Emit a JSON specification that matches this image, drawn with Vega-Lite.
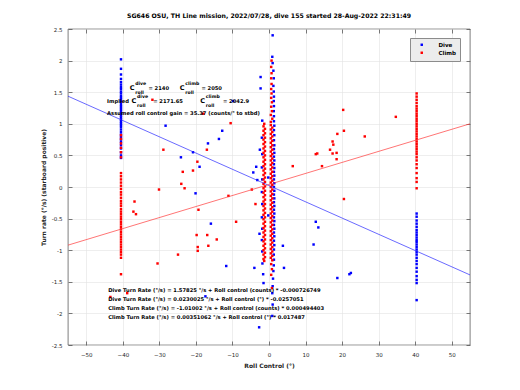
{
  "$schema": "https://vega.github.io/schema/vega-lite/v6.json",
  "autosize": {"type": "none"},
  "padding": {"left": 68, "top": 29, "right": 50, "bottom": 45},
  "width": 402,
  "height": 316,
  "background": "white",
  "title": {"text": "SG646 OSU, TH Line mission, 2022/07/28, dive 155 started 28-Aug-2022 22:31:49", "font": "DejaVu Sans", "fontSize": 6.2, "fontWeight": "bold", "color": "#000000", "offset": 8, "anchor": "middle"},
  "config": {
    "view": {"stroke": "#262626", "strokeWidth": 0.6},
    "axis": {"labelFont": "DejaVu Sans", "labelFontSize": 5.5, "labelColor": "#262626", "domainColor": "#262626", "domainWidth": 0.6, "tickColor": "#262626", "tickWidth": 0.6, "gridColor": "#e3e3e3", "gridWidth": 0.6, "titleFont": "DejaVu Sans", "titleFontSize": 6, "titleFontWeight": "bold", "titleColor": "#262626"},
    "legend": {"labelFont": "DejaVu Sans", "labelFontSize": 5.5, "labelFontWeight": "bold"}
  },
  "datasets": {
    "pts": [
      {"x": -40.5, "y": 2.02, "g": "Dive"}, {"x": -40.5, "y": 1.87, "g": "Dive"}, {"x": -40.5, "y": 1.78, "g": "Dive"}, {"x": -40.5, "y": 1.71, "g": "Dive"}, {"x": -40.5, "y": 1.66, "g": "Dive"}, {"x": -40.5, "y": 1.62, "g": "Dive"}, {"x": -40.5, "y": 1.58, "g": "Dive"}, {"x": -40.5, "y": 1.55, "g": "Dive"}, {"x": -40.5, "y": 1.51, "g": "Dive"}, {"x": -40.5, "y": 1.48, "g": "Dive"}, {"x": -40.5, "y": 1.44, "g": "Dive"}, {"x": -40.5, "y": 1.41, "g": "Dive"}, {"x": -40.5, "y": 1.38, "g": "Dive"}, {"x": -40.5, "y": 1.35, "g": "Dive"}, {"x": -40.5, "y": 1.31, "g": "Dive"}, {"x": -40.5, "y": 1.28, "g": "Dive"}, {"x": -40.5, "y": 1.25, "g": "Dive"}, {"x": -40.5, "y": 1.22, "g": "Dive"}, {"x": -40.5, "y": 1.19, "g": "Dive"}, {"x": -40.5, "y": 1.16, "g": "Dive"}, {"x": -40.5, "y": 1.13, "g": "Dive"}, {"x": -40.5, "y": 1.1, "g": "Dive"}, {"x": -40.5, "y": 1.07, "g": "Dive"}, {"x": -40.5, "y": 1.04, "g": "Dive"}, {"x": -40.5, "y": 1.01, "g": "Dive"}, {"x": -40.5, "y": 0.98, "g": "Dive"}, {"x": -40.5, "y": 0.95, "g": "Dive"}, {"x": -40.5, "y": 0.91, "g": "Dive"}, {"x": -40.5, "y": 0.87, "g": "Dive"}, {"x": -40.5, "y": 0.83, "g": "Dive"}, {"x": -40.5, "y": 0.79, "g": "Dive"}, {"x": -40.5, "y": 0.75, "g": "Dive"}, {"x": -40.5, "y": 0.71, "g": "Dive"}, {"x": -40.5, "y": 0.66, "g": "Dive"}, {"x": -40.5, "y": 0.61, "g": "Dive"}, {"x": -40.5, "y": 0.55, "g": "Dive"}, {"x": -40.5, "y": 0.5, "g": "Dive"}, {"x": -40.5, "y": 0.46, "g": "Dive"},
      {"x": 40.4, "y": -0.42, "g": "Dive"}, {"x": 40.4, "y": -0.47, "g": "Dive"}, {"x": 40.4, "y": -0.53, "g": "Dive"}, {"x": 40.4, "y": -0.58, "g": "Dive"}, {"x": 40.4, "y": -0.63, "g": "Dive"}, {"x": 40.4, "y": -0.68, "g": "Dive"}, {"x": 40.4, "y": -0.72, "g": "Dive"}, {"x": 40.4, "y": -0.76, "g": "Dive"}, {"x": 40.4, "y": -0.8, "g": "Dive"}, {"x": 40.4, "y": -0.84, "g": "Dive"}, {"x": 40.4, "y": -0.87, "g": "Dive"}, {"x": 40.4, "y": -0.91, "g": "Dive"}, {"x": 40.4, "y": -0.95, "g": "Dive"}, {"x": 40.4, "y": -0.99, "g": "Dive"}, {"x": 40.4, "y": -1.03, "g": "Dive"}, {"x": 40.4, "y": -1.07, "g": "Dive"}, {"x": 40.4, "y": -1.12, "g": "Dive"}, {"x": 40.4, "y": -1.17, "g": "Dive"}, {"x": 40.4, "y": -1.22, "g": "Dive"}, {"x": 40.4, "y": -1.28, "g": "Dive"}, {"x": 40.4, "y": -1.34, "g": "Dive"}, {"x": 40.4, "y": -1.41, "g": "Dive"}, {"x": 40.4, "y": -1.47, "g": "Dive"}, {"x": 40.4, "y": -1.52, "g": "Dive"}, {"x": 40.4, "y": -1.79, "g": "Dive"},
      {"x": 1.0, "y": 2.4, "g": "Dive"}, {"x": 0.9, "y": 2.06, "g": "Dive"}, {"x": 1.0, "y": 1.96, "g": "Dive"}, {"x": 1.2, "y": 1.84, "g": "Dive"}, {"x": 1.3, "y": 1.72, "g": "Dive"}, {"x": 1.2, "y": 1.6, "g": "Dive"}, {"x": 1.3, "y": 1.51, "g": "Dive"}, {"x": 1.35, "y": 1.43, "g": "Dive"}, {"x": 1.3, "y": 1.36, "g": "Dive"}, {"x": 1.35, "y": 1.28, "g": "Dive"}, {"x": 1.3, "y": 1.2, "g": "Dive"}, {"x": 1.35, "y": 1.12, "g": "Dive"}, {"x": 1.35, "y": 1.04, "g": "Dive"}, {"x": 1.45, "y": 0.97, "g": "Dive"}, {"x": 1.35, "y": 0.9, "g": "Dive"}, {"x": 1.45, "y": 0.82, "g": "Dive"}, {"x": 1.35, "y": 0.74, "g": "Dive"}, {"x": 1.45, "y": 0.66, "g": "Dive"}, {"x": 1.35, "y": 0.6, "g": "Dive"}, {"x": 1.45, "y": 0.54, "g": "Dive"}, {"x": 1.35, "y": 0.48, "g": "Dive"}, {"x": 1.45, "y": 0.42, "g": "Dive"}, {"x": 1.35, "y": 0.36, "g": "Dive"}, {"x": 1.45, "y": 0.3, "g": "Dive"}, {"x": 1.35, "y": 0.24, "g": "Dive"}, {"x": 1.45, "y": 0.18, "g": "Dive"}, {"x": 1.35, "y": 0.12, "g": "Dive"}, {"x": 1.45, "y": 0.06, "g": "Dive"}, {"x": 1.35, "y": 0.0, "g": "Dive"}, {"x": 1.45, "y": -0.06, "g": "Dive"}, {"x": 1.35, "y": -0.12, "g": "Dive"}, {"x": 1.45, "y": -0.18, "g": "Dive"}, {"x": 1.35, "y": -0.24, "g": "Dive"}, {"x": 1.45, "y": -0.3, "g": "Dive"}, {"x": 1.35, "y": -0.36, "g": "Dive"}, {"x": 1.45, "y": -0.42, "g": "Dive"}, {"x": 1.35, "y": -0.48, "g": "Dive"}, {"x": 1.45, "y": -0.54, "g": "Dive"}, {"x": 1.35, "y": -0.6, "g": "Dive"}, {"x": 1.45, "y": -0.66, "g": "Dive"}, {"x": 1.35, "y": -0.72, "g": "Dive"}, {"x": 1.45, "y": -0.78, "g": "Dive"}, {"x": 1.35, "y": -0.85, "g": "Dive"}, {"x": 1.45, "y": -0.92, "g": "Dive"}, {"x": 1.35, "y": -0.99, "g": "Dive"}, {"x": 1.3, "y": -1.07, "g": "Dive"}, {"x": 1.35, "y": -1.15, "g": "Dive"}, {"x": 1.3, "y": -1.24, "g": "Dive"}, {"x": 1.2, "y": -1.33, "g": "Dive"}, {"x": 1.1, "y": -1.45, "g": "Dive"}, {"x": 1.0, "y": -1.57, "g": "Dive"}, {"x": 0.9, "y": -1.68, "g": "Dive"}, {"x": 1.0, "y": -1.86, "g": "Dive"}, {"x": 0.9, "y": -2.04, "g": "Dive"}, {"x": -2.7, "y": -2.22, "g": "Dive"},
      {"x": -0.2, "y": 0.15, "g": "Dive"}, {"x": -0.2, "y": -0.45, "g": "Dive"},
      {"x": -1.85, "y": 1.05, "g": "Dive"}, {"x": -1.95, "y": 0.78, "g": "Dive"}, {"x": -1.85, "y": 0.52, "g": "Dive"}, {"x": -1.95, "y": 0.31, "g": "Dive"}, {"x": -1.85, "y": 0.12, "g": "Dive"}, {"x": -1.95, "y": -0.08, "g": "Dive"}, {"x": -1.85, "y": -0.27, "g": "Dive"}, {"x": -1.95, "y": -0.48, "g": "Dive"}, {"x": -1.85, "y": -0.66, "g": "Dive"}, {"x": -1.95, "y": -0.84, "g": "Dive"}, {"x": -1.85, "y": -1.02, "g": "Dive"}, {"x": -1.8, "y": -1.21, "g": "Dive"}, {"x": -1.6, "y": -1.38, "g": "Dive"}, {"x": -1.5, "y": -1.52, "g": "Dive"},
      {"x": -28.3, "y": 0.97, "g": "Dive"}, {"x": -12.8, "y": 0.89, "g": "Dive"}, {"x": -13.7, "y": 0.76, "g": "Dive"}, {"x": -16.7, "y": 0.69, "g": "Dive"}, {"x": -20.8, "y": 0.55, "g": "Dive"}, {"x": -24.1, "y": 0.47, "g": "Dive"}, {"x": -19.0, "y": 0.32, "g": "Dive"}, {"x": -20.1, "y": -0.1, "g": "Dive"}, {"x": -15.9, "y": -0.58, "g": "Dive"}, {"x": -11.7, "y": -1.25, "g": "Dive"}, {"x": -2.5, "y": 0.59, "g": "Dive"}, {"x": -3.5, "y": 0.32, "g": "Dive"}, {"x": -4.3, "y": 0.23, "g": "Dive"}, {"x": -3.2, "y": 0.11, "g": "Dive"}, {"x": -2.6, "y": -0.74, "g": "Dive"}, {"x": -2.3, "y": 1.74, "g": "Dive"}, {"x": -2.3, "y": 1.56, "g": "Dive"}, {"x": 12.8, "y": -0.55, "g": "Dive"}, {"x": 13.5, "y": -0.64, "g": "Dive"}, {"x": 12.2, "y": -0.91, "g": "Dive"}, {"x": 18.7, "y": -1.44, "g": "Dive"}, {"x": 22.0, "y": -1.38, "g": "Dive"}, {"x": 22.4, "y": -1.36, "g": "Dive"}, {"x": 3.8, "y": -0.93, "g": "Dive"}, {"x": 4.1, "y": -1.28, "g": "Dive"}, {"x": -4.0, "y": -1.28, "g": "Dive"}, {"x": -9.8, "y": 1.36, "g": "Dive"}, {"x": -17.4, "y": -1.73, "g": "Dive"},
      {"x": -40.5, "y": 0.82, "g": "Climb"}, {"x": -40.5, "y": 0.76, "g": "Climb"}, {"x": -40.5, "y": 0.69, "g": "Climb"}, {"x": -40.5, "y": 0.62, "g": "Climb"}, {"x": -40.5, "y": 0.55, "g": "Climb"}, {"x": -40.5, "y": 0.47, "g": "Climb"}, {"x": -40.5, "y": 0.22, "g": "Climb"}, {"x": -40.5, "y": 0.17, "g": "Climb"}, {"x": -40.5, "y": 0.12, "g": "Climb"}, {"x": -40.5, "y": 0.07, "g": "Climb"}, {"x": -40.5, "y": 0.02, "g": "Climb"}, {"x": -40.5, "y": -0.03, "g": "Climb"}, {"x": -40.5, "y": -0.08, "g": "Climb"}, {"x": -40.5, "y": -0.12, "g": "Climb"}, {"x": -40.5, "y": -0.17, "g": "Climb"}, {"x": -40.5, "y": -0.22, "g": "Climb"}, {"x": -40.5, "y": -0.26, "g": "Climb"}, {"x": -40.5, "y": -0.3, "g": "Climb"}, {"x": -40.5, "y": -0.35, "g": "Climb"}, {"x": -40.5, "y": -0.39, "g": "Climb"}, {"x": -40.5, "y": -0.43, "g": "Climb"}, {"x": -40.5, "y": -0.47, "g": "Climb"}, {"x": -40.5, "y": -0.51, "g": "Climb"}, {"x": -40.5, "y": -0.55, "g": "Climb"}, {"x": -40.5, "y": -0.59, "g": "Climb"}, {"x": -40.5, "y": -0.63, "g": "Climb"}, {"x": -40.5, "y": -0.67, "g": "Climb"}, {"x": -40.5, "y": -0.71, "g": "Climb"}, {"x": -40.5, "y": -0.75, "g": "Climb"}, {"x": -40.5, "y": -0.79, "g": "Climb"}, {"x": -40.5, "y": -0.83, "g": "Climb"}, {"x": -40.5, "y": -0.87, "g": "Climb"}, {"x": -40.5, "y": -0.91, "g": "Climb"}, {"x": -40.5, "y": -0.95, "g": "Climb"}, {"x": -40.5, "y": -0.99, "g": "Climb"}, {"x": -40.5, "y": -1.03, "g": "Climb"}, {"x": -40.5, "y": -1.07, "g": "Climb"}, {"x": -40.5, "y": -1.12, "g": "Climb"}, {"x": -40.5, "y": -1.38, "g": "Climb"},
      {"x": 40.4, "y": 1.48, "g": "Climb"}, {"x": 40.4, "y": 1.43, "g": "Climb"}, {"x": 40.4, "y": 1.38, "g": "Climb"}, {"x": 40.4, "y": 1.33, "g": "Climb"}, {"x": 40.4, "y": 1.28, "g": "Climb"}, {"x": 40.4, "y": 1.24, "g": "Climb"}, {"x": 40.4, "y": 1.2, "g": "Climb"}, {"x": 40.4, "y": 1.16, "g": "Climb"}, {"x": 40.4, "y": 1.12, "g": "Climb"}, {"x": 40.4, "y": 1.08, "g": "Climb"}, {"x": 40.4, "y": 1.04, "g": "Climb"}, {"x": 40.4, "y": 1.0, "g": "Climb"}, {"x": 40.4, "y": 0.96, "g": "Climb"}, {"x": 40.4, "y": 0.92, "g": "Climb"}, {"x": 40.4, "y": 0.88, "g": "Climb"}, {"x": 40.4, "y": 0.84, "g": "Climb"}, {"x": 40.4, "y": 0.8, "g": "Climb"}, {"x": 40.4, "y": 0.76, "g": "Climb"}, {"x": 40.4, "y": 0.72, "g": "Climb"}, {"x": 40.4, "y": 0.68, "g": "Climb"}, {"x": 40.4, "y": 0.64, "g": "Climb"}, {"x": 40.4, "y": 0.6, "g": "Climb"}, {"x": 40.4, "y": 0.56, "g": "Climb"}, {"x": 40.4, "y": 0.52, "g": "Climb"}, {"x": 40.4, "y": 0.47, "g": "Climb"}, {"x": 40.4, "y": 0.42, "g": "Climb"}, {"x": 40.4, "y": 0.36, "g": "Climb"}, {"x": 40.4, "y": 0.3, "g": "Climb"}, {"x": 40.4, "y": 0.22, "g": "Climb"}, {"x": 40.4, "y": 0.14, "g": "Climb"}, {"x": 40.4, "y": 0.08, "g": "Climb"}, {"x": 40.4, "y": -0.02, "g": "Climb"},
      {"x": -1.3, "y": 1.0, "g": "Climb"}, {"x": -1.5, "y": 0.96, "g": "Climb"}, {"x": -1.1, "y": 0.92, "g": "Climb"}, {"x": -1.5, "y": 0.89, "g": "Climb"}, {"x": -1.1, "y": 0.85, "g": "Climb"}, {"x": -1.5, "y": 0.82, "g": "Climb"}, {"x": -1.1, "y": 0.78, "g": "Climb"}, {"x": -1.5, "y": 0.75, "g": "Climb"}, {"x": -1.1, "y": 0.71, "g": "Climb"}, {"x": -1.5, "y": 0.68, "g": "Climb"}, {"x": -1.1, "y": 0.64, "g": "Climb"}, {"x": -1.5, "y": 0.61, "g": "Climb"}, {"x": -1.1, "y": 0.57, "g": "Climb"}, {"x": -1.5, "y": 0.54, "g": "Climb"}, {"x": -1.1, "y": 0.5, "g": "Climb"}, {"x": -1.5, "y": 0.47, "g": "Climb"}, {"x": -1.1, "y": 0.43, "g": "Climb"}, {"x": -1.5, "y": 0.4, "g": "Climb"}, {"x": -1.1, "y": 0.36, "g": "Climb"}, {"x": -1.5, "y": 0.33, "g": "Climb"}, {"x": -1.1, "y": 0.29, "g": "Climb"}, {"x": -1.5, "y": 0.26, "g": "Climb"}, {"x": -1.1, "y": 0.22, "g": "Climb"}, {"x": -1.5, "y": 0.19, "g": "Climb"}, {"x": -1.1, "y": 0.15, "g": "Climb"}, {"x": -1.5, "y": 0.12, "g": "Climb"}, {"x": -1.1, "y": 0.08, "g": "Climb"}, {"x": -1.5, "y": 0.05, "g": "Climb"}, {"x": -1.1, "y": 0.01, "g": "Climb"}, {"x": -1.5, "y": -0.02, "g": "Climb"}, {"x": -1.1, "y": -0.06, "g": "Climb"}, {"x": -1.5, "y": -0.09, "g": "Climb"}, {"x": -1.1, "y": -0.13, "g": "Climb"}, {"x": -1.5, "y": -0.16, "g": "Climb"}, {"x": -1.1, "y": -0.2, "g": "Climb"}, {"x": -1.5, "y": -0.23, "g": "Climb"}, {"x": -1.1, "y": -0.27, "g": "Climb"}, {"x": -1.5, "y": -0.3, "g": "Climb"}, {"x": -1.1, "y": -0.34, "g": "Climb"}, {"x": -1.5, "y": -0.37, "g": "Climb"}, {"x": -1.1, "y": -0.41, "g": "Climb"}, {"x": -1.5, "y": -0.44, "g": "Climb"}, {"x": -1.1, "y": -0.48, "g": "Climb"}, {"x": -1.5, "y": -0.51, "g": "Climb"}, {"x": -1.1, "y": -0.55, "g": "Climb"}, {"x": -1.5, "y": -0.58, "g": "Climb"}, {"x": -1.1, "y": -0.62, "g": "Climb"}, {"x": -1.5, "y": -0.65, "g": "Climb"}, {"x": -1.1, "y": -0.69, "g": "Climb"}, {"x": -1.5, "y": -0.72, "g": "Climb"}, {"x": -1.1, "y": -0.76, "g": "Climb"}, {"x": -1.5, "y": -0.79, "g": "Climb"}, {"x": -1.1, "y": -0.83, "g": "Climb"}, {"x": -1.5, "y": -0.86, "g": "Climb"}, {"x": -1.1, "y": -0.9, "g": "Climb"}, {"x": -1.5, "y": -0.93, "g": "Climb"}, {"x": -1.1, "y": -0.97, "g": "Climb"}, {"x": -1.5, "y": -1.0, "g": "Climb"}, {"x": -1.1, "y": -1.04, "g": "Climb"}, {"x": -1.5, "y": -1.07, "g": "Climb"}, {"x": -1.1, "y": -1.11, "g": "Climb"}, {"x": -1.5, "y": -1.14, "g": "Climb"}, {"x": -1.3, "y": -1.17, "g": "Climb"},
      {"x": 0.7, "y": 2.0, "g": "Climb"}, {"x": 0.6, "y": 1.9, "g": "Climb"}, {"x": 0.7, "y": 1.8, "g": "Climb"}, {"x": 0.6, "y": 1.72, "g": "Climb"}, {"x": 0.7, "y": 1.63, "g": "Climb"}, {"x": 0.6, "y": 1.55, "g": "Climb"}, {"x": 0.7, "y": 1.48, "g": "Climb"}, {"x": 0.6, "y": 1.41, "g": "Climb"}, {"x": 0.8, "y": 1.34, "g": "Climb"}, {"x": 0.6, "y": 1.27, "g": "Climb"}, {"x": 0.8, "y": 1.2, "g": "Climb"}, {"x": 0.5, "y": 1.14, "g": "Climb"}, {"x": 0.9, "y": 1.08, "g": "Climb"}, {"x": 0.5, "y": 1.03, "g": "Climb"},
      {"x": 0.5, "y": 0.98, "g": "Climb"}, {"x": 0.9, "y": 0.94, "g": "Climb"}, {"x": 0.5, "y": 0.91, "g": "Climb"}, {"x": 0.9, "y": 0.87, "g": "Climb"}, {"x": 0.5, "y": 0.84, "g": "Climb"}, {"x": 0.9, "y": 0.8, "g": "Climb"}, {"x": 0.5, "y": 0.77, "g": "Climb"}, {"x": 0.9, "y": 0.73, "g": "Climb"}, {"x": 0.5, "y": 0.7, "g": "Climb"}, {"x": 0.9, "y": 0.66, "g": "Climb"}, {"x": 0.5, "y": 0.63, "g": "Climb"}, {"x": 0.9, "y": 0.59, "g": "Climb"}, {"x": 0.5, "y": 0.56, "g": "Climb"}, {"x": 0.9, "y": 0.52, "g": "Climb"}, {"x": 0.5, "y": 0.49, "g": "Climb"}, {"x": 0.9, "y": 0.45, "g": "Climb"}, {"x": 0.5, "y": 0.42, "g": "Climb"}, {"x": 0.9, "y": 0.38, "g": "Climb"}, {"x": 0.5, "y": 0.35, "g": "Climb"}, {"x": 0.9, "y": 0.31, "g": "Climb"}, {"x": 0.5, "y": 0.28, "g": "Climb"}, {"x": 0.9, "y": 0.24, "g": "Climb"}, {"x": 0.5, "y": 0.21, "g": "Climb"}, {"x": 0.9, "y": 0.17, "g": "Climb"}, {"x": 0.5, "y": 0.14, "g": "Climb"}, {"x": 0.9, "y": 0.1, "g": "Climb"}, {"x": 0.5, "y": 0.07, "g": "Climb"}, {"x": 0.9, "y": 0.03, "g": "Climb"}, {"x": 0.5, "y": 0.0, "g": "Climb"}, {"x": 0.9, "y": -0.04, "g": "Climb"}, {"x": 0.5, "y": -0.07, "g": "Climb"}, {"x": 0.9, "y": -0.11, "g": "Climb"}, {"x": 0.5, "y": -0.14, "g": "Climb"}, {"x": 0.9, "y": -0.18, "g": "Climb"}, {"x": 0.5, "y": -0.21, "g": "Climb"}, {"x": 0.9, "y": -0.25, "g": "Climb"}, {"x": 0.5, "y": -0.28, "g": "Climb"}, {"x": 0.9, "y": -0.32, "g": "Climb"}, {"x": 0.5, "y": -0.35, "g": "Climb"}, {"x": 0.9, "y": -0.39, "g": "Climb"}, {"x": 0.5, "y": -0.42, "g": "Climb"}, {"x": 0.9, "y": -0.46, "g": "Climb"}, {"x": 0.5, "y": -0.49, "g": "Climb"}, {"x": 0.9, "y": -0.53, "g": "Climb"}, {"x": 0.5, "y": -0.56, "g": "Climb"}, {"x": 0.9, "y": -0.6, "g": "Climb"}, {"x": 0.5, "y": -0.63, "g": "Climb"}, {"x": 0.9, "y": -0.67, "g": "Climb"}, {"x": 0.5, "y": -0.7, "g": "Climb"}, {"x": 0.9, "y": -0.74, "g": "Climb"}, {"x": 0.5, "y": -0.77, "g": "Climb"}, {"x": 0.9, "y": -0.81, "g": "Climb"}, {"x": 0.5, "y": -0.84, "g": "Climb"}, {"x": 0.9, "y": -0.88, "g": "Climb"}, {"x": 0.5, "y": -0.91, "g": "Climb"}, {"x": 0.9, "y": -0.95, "g": "Climb"}, {"x": 0.5, "y": -0.98, "g": "Climb"}, {"x": 0.9, "y": -1.02, "g": "Climb"}, {"x": 0.5, "y": -1.05, "g": "Climb"}, {"x": 0.9, "y": -1.09, "g": "Climb"}, {"x": 0.5, "y": -1.12, "g": "Climb"}, {"x": 0.9, "y": -1.16, "g": "Climb"}, {"x": 0.6, "y": -1.22, "g": "Climb"}, {"x": 0.8, "y": -1.3, "g": "Climb"}, {"x": 0.6, "y": -1.39, "g": "Climb"},
      {"x": -10.5, "y": 1.01, "g": "Climb"}, {"x": -28.9, "y": 0.59, "g": "Climb"}, {"x": -17.0, "y": 0.59, "g": "Climb"}, {"x": -19.6, "y": 0.4, "g": "Climb"}, {"x": -23.6, "y": 0.24, "g": "Climb"}, {"x": -20.8, "y": 0.26, "g": "Climb"}, {"x": -24.0, "y": 0.05, "g": "Climb"}, {"x": -23.1, "y": -0.02, "g": "Climb"}, {"x": -30.1, "y": -0.04, "g": "Climb"}, {"x": -11.1, "y": -0.14, "g": "Climb"}, {"x": -19.3, "y": -0.36, "g": "Climb"}, {"x": -9.0, "y": -0.55, "g": "Climb"}, {"x": -3.7, "y": -0.27, "g": "Climb"}, {"x": -4.7, "y": -0.04, "g": "Climb"}, {"x": -19.8, "y": -0.76, "g": "Climb"}, {"x": -16.9, "y": -0.76, "g": "Climb"}, {"x": -14.3, "y": -0.83, "g": "Climb"}, {"x": -19.5, "y": -0.95, "g": "Climb"}, {"x": -19.5, "y": -1.01, "g": "Climb"}, {"x": -16.6, "y": -0.93, "g": "Climb"}, {"x": -24.9, "y": -1.07, "g": "Climb"}, {"x": -30.5, "y": -1.21, "g": "Climb"}, {"x": 6.5, "y": 0.33, "g": "Climb"}, {"x": 14.5, "y": 0.33, "g": "Climb"}, {"x": 12.8, "y": 0.52, "g": "Climb"}, {"x": 13.2, "y": 0.53, "g": "Climb"}, {"x": 16.7, "y": 0.59, "g": "Climb"}, {"x": 17.4, "y": 0.53, "g": "Climb"}, {"x": 18.5, "y": 0.54, "g": "Climb"}, {"x": 17.4, "y": 0.72, "g": "Climb"}, {"x": 17.6, "y": 0.67, "g": "Climb"}, {"x": 18.7, "y": 0.84, "g": "Climb"}, {"x": 20.5, "y": 0.89, "g": "Climb"}, {"x": 20.3, "y": 1.22, "g": "Climb"}, {"x": 26.2, "y": 0.8, "g": "Climb"}, {"x": 18.5, "y": 0.44, "g": "Climb"}, {"x": 20.5, "y": -0.19, "g": "Climb"}, {"x": 34.7, "y": 1.11, "g": "Climb"}, {"x": -36.8, "y": -0.23, "g": "Climb"}, {"x": -37.1, "y": -0.39, "g": "Climb"}, {"x": -36.4, "y": -0.43, "g": "Climb"}, {"x": -31.9, "y": 1.38, "g": "Climb"}, {"x": -43.4, "y": -1.74, "g": "Climb"}, {"x": -38.8, "y": -1.68, "g": "Climb"}, {"x": -18.0, "y": 1.16, "g": "Climb"}, {"x": 0.8, "y": -1.6, "g": "Climb"}
    ],
    "fits": [
      {"x": -55, "y": 1.437, "g": "Dive"}, {"x": 55, "y": -1.391, "g": "Dive"},
      {"x": -55, "y": -0.92, "g": "Climb"}, {"x": 55, "y": 1.0, "g": "Climb"}
    ],
    "notes": [
      {"x": -33.0, "y": 1.561, "t": "= 2140"},
      {"x": -18.5, "y": 1.561, "t": "= 2050"},
      {"x": -44.3, "y": 1.355, "t": "Implied"}, {"x": -31.7, "y": 1.355, "t": "= 2171.65"},
      {"x": -12.6, "y": 1.355, "t": "= 2042.9"},
      {"x": -44.3, "y": 1.165, "t": "Assumed roll control gain = 35.37 (counts/° to stbd)"},
      {"x": -44.0, "y": -1.632, "t": "Dive Turn Rate (°/s) = 1.57825 °/s + Roll control (counts) * -0.000726749"},
      {"x": -44.0, "y": -1.775, "t": "Dive Turn Rate (°/s) = 0.0230025 °/s + Roll control (°) * -0.0257051"},
      {"x": -44.0, "y": -1.918, "t": "Climb Turn Rate (°/s) = -1.01002 °/s + Roll control (counts) * 0.000494403"},
      {"x": -44.0, "y": -2.06, "t": "Climb Turn Rate (°/s) = 0.00351062 °/s + Roll control (°) * 0.017487"}
    ],
    "bigc": [
      {"x": -38.1, "y": 1.561, "t": "C"}, {"x": -24.4, "y": 1.561, "t": "C"},
      {"x": -37.6, "y": 1.355, "t": "C"}, {"x": -18.8, "y": 1.355, "t": "C"}
    ],
    "scripts": [
      {"x": -36.6, "y": 1.63, "t": "dive"}, {"x": -36.6, "y": 1.49, "t": "roll"},
      {"x": -22.9, "y": 1.63, "t": "climb"}, {"x": -22.9, "y": 1.49, "t": "roll"},
      {"x": -36.1, "y": 1.424, "t": "dive"}, {"x": -36.1, "y": 1.284, "t": "roll"},
      {"x": -17.3, "y": 1.424, "t": "climb"}, {"x": -17.3, "y": 1.284, "t": "roll"}
    ]
  },
  "resolve": {"axis": {"x": "independent", "y": "independent"}},
  "layer": [
    {
      "data": {"name": "pts"},
      "mark": {"type": "point", "filled": true, "shape": "square", "size": 6, "opacity": 1},
      "encoding": {
        "x": {"field": "x", "type": "quantitative", "scale": {"domain": [-55, 55], "nice": false, "zero": false},
          "axis": {"orient": "bottom", "values": [-50, -40, -30, -20, -10, 0, 10, 20, 30, 40, 50], "grid": true, "tickSize": -4, "labelPadding": 11, "title": "Roll Control (°)", "titlePadding": 5, "domain": false}},
        "y": {"field": "y", "type": "quantitative", "scale": {"domain": [-2.5, 2.5], "nice": false, "zero": false},
          "axis": {"orient": "left", "values": [-2.5, -2, -1.5, -1, -0.5, 0, 0.5, 1, 1.5, 2, 2.5], "labelExpr": "datum.value", "grid": true, "tickSize": -4, "labelPadding": 10, "title": "Turn rate (°/s) (starboard positive)", "titlePadding": 5, "domain": false}},
        "color": {"field": "g", "type": "nominal", "scale": {"domain": ["Dive", "Climb"], "range": ["#0000ff", "#ff0000"]},
          "legend": {"title": null, "orient": "none", "legendX": 342, "legendY": 9, "fillColor": "#ececec", "strokeColor": "#8c8c8c", "padding": 4, "rowPadding": 1, "symbolSize": 6, "symbolType": "square", "labelOffset": 14, "symbolOffset": 5, "labelColor": "#000000"}}
      }
    },
    {
      "data": {"name": "fits"},
      "transform": [{"filter": "datum.g === 'Dive'"}],
      "mark": {"type": "line", "color": "#2a2aff", "strokeWidth": 0.7},
      "encoding": {
        "x": {"field": "x", "type": "quantitative", "axis": {"orient": "top", "values": [-50, -40, -30, -20, -10, 0, 10, 20, 30, 40, 50], "labels": false, "grid": false, "tickSize": -4, "title": null, "domain": false}},
        "y": {"field": "y", "type": "quantitative", "axis": {"orient": "right", "values": [-2.5, -2, -1.5, -1, -0.5, 0, 0.5, 1, 1.5, 2, 2.5], "labels": false, "grid": false, "tickSize": -4, "title": null, "domain": false}}
      }
    },
    {
      "data": {"name": "fits"},
      "transform": [{"filter": "datum.g === 'Climb'"}],
      "mark": {"type": "line", "color": "#ff3a3a", "strokeWidth": 0.7},
      "encoding": {
        "x": {"field": "x", "type": "quantitative", "axis": null},
        "y": {"field": "y", "type": "quantitative", "axis": null}
      }
    },
    {
      "data": {"name": "notes"},
      "mark": {"type": "text", "align": "left", "baseline": "middle", "font": "DejaVu Sans", "fontSize": 5.2, "fontWeight": "bold", "color": "#000000"},
      "encoding": {
        "x": {"field": "x", "type": "quantitative", "axis": null},
        "y": {"field": "y", "type": "quantitative", "axis": null},
        "text": {"field": "t"}
      }
    },
    {
      "data": {"name": "bigc"},
      "mark": {"type": "text", "align": "left", "baseline": "middle", "font": "DejaVu Sans", "fontSize": 6.5, "fontWeight": "bold", "color": "#000000"},
      "encoding": {
        "x": {"field": "x", "type": "quantitative", "axis": null},
        "y": {"field": "y", "type": "quantitative", "axis": null},
        "text": {"field": "t"}
      }
    },
    {
      "data": {"name": "scripts"},
      "mark": {"type": "text", "align": "left", "baseline": "middle", "font": "DejaVu Sans", "fontSize": 4.6, "fontWeight": "bold", "color": "#000000"},
      "encoding": {
        "x": {"field": "x", "type": "quantitative", "axis": null},
        "y": {"field": "y", "type": "quantitative", "axis": null},
        "text": {"field": "t"}
      }
    }
  ]
}
